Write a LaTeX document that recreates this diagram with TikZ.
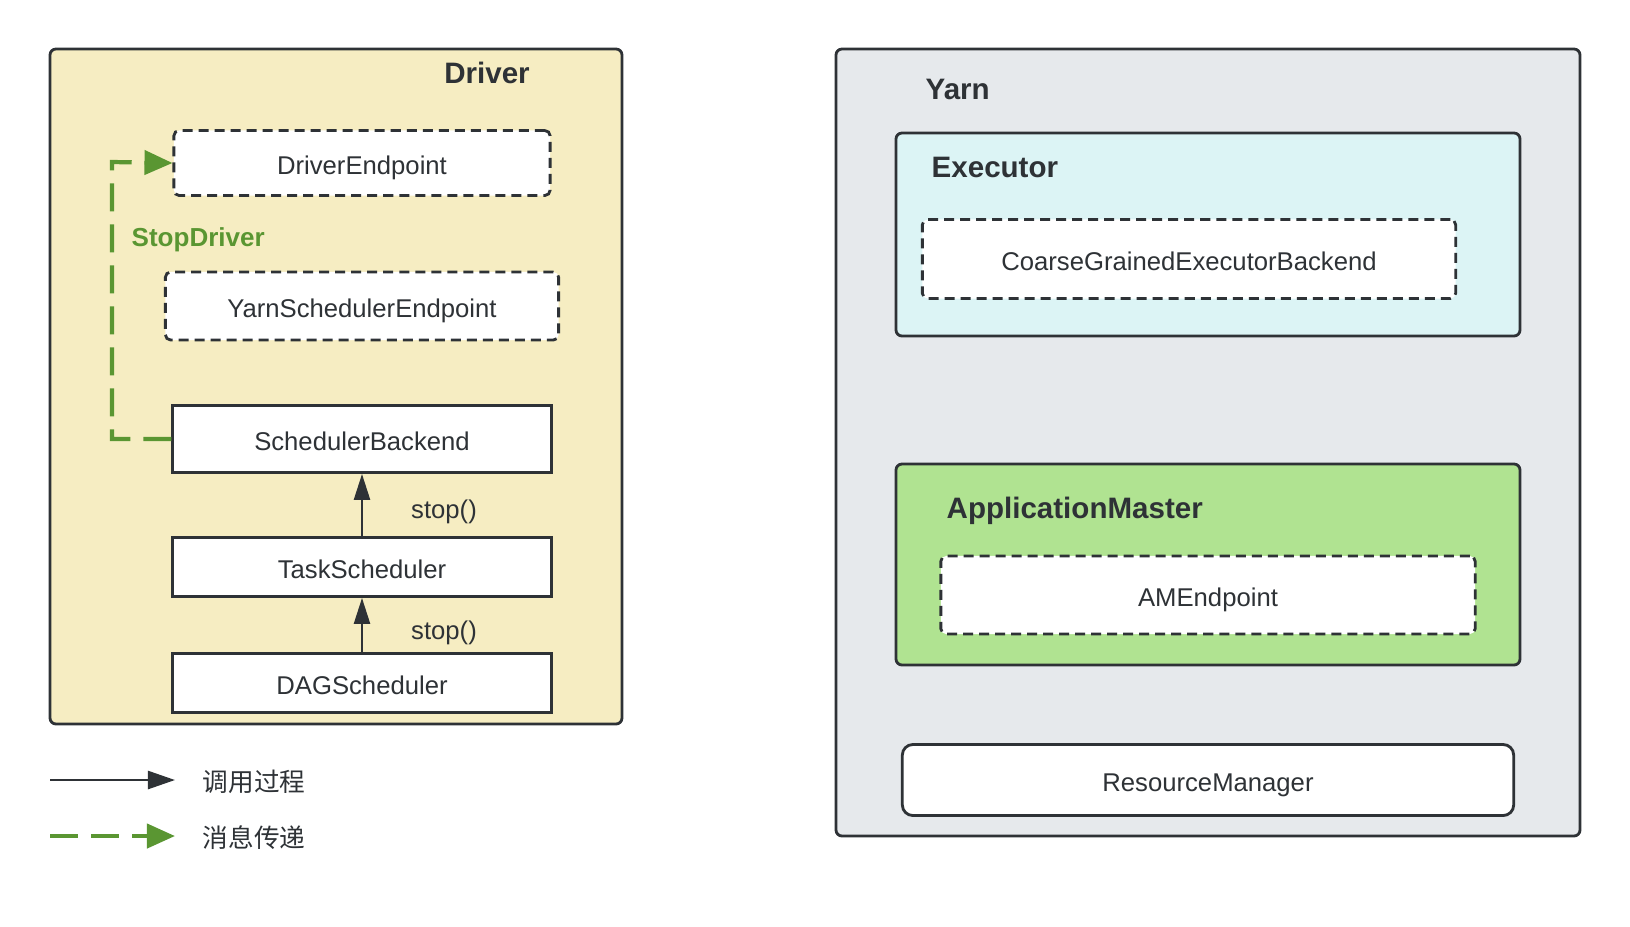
\documentclass[tikz,border=0pt]{standalone}
\usepackage{fontspec}
\setmainfont{Liberation Sans}
\newfontfamily\cjk{Noto Sans CJK SC}
\usetikzlibrary{arrows.meta}

\definecolor{drivfill}{HTML}{F6EDC2}
\definecolor{yarnfill}{HTML}{E6E9EC}
\definecolor{execfill}{HTML}{DCF4F5}
\definecolor{amfill}{HTML}{B0E391}
\definecolor{msggreen}{HTML}{5A9632}
\definecolor{edgegray}{HTML}{2E3236}

\tikzset{
	comp/.style={draw=edgegray, line width=0.8pt, fill=white, text=edgegray, inner sep=0pt,
		text height=6.6pt, text depth=0pt, font=\fontsize{7.3}{9}\selectfont},
	endpt/.style={comp, rounded corners=1.5pt, dash pattern=on 0.1cm off 0.06cm},
	group/.style={draw=edgegray, line width=0.8pt, rounded corners=1.7pt},
	title/.style={font=\fontsize{8.4}{10}\selectfont\bfseries, text=edgegray, inner sep=0pt},
	lbl/.style={font=\fontsize{7.3}{9}\selectfont, text=edgegray, inner sep=0pt},
	callarrow/.style={-{Triangle[length=0.26cm,width=0.16cm]}, line width=0.7pt, draw=edgegray},
	msgarrow/.style={-{Triangle[length=0.28cm,width=0.24cm]}, line width=1.2pt, draw=msggreen,
		dash pattern=on 0.28cm off 0.13cm}
}

\begin{document}
\begin{tikzpicture}[x=0.01cm,y=-0.01cm]

	\useasboundingbox (0,0) rectangle (1630,926);

	%driver and yarn frames
	\draw [group, fill=drivfill] (50,49) rectangle (622,724);
	\draw [group, fill=yarnfill] (836,49) rectangle (1580,836);
	\draw [group, fill=execfill] (896,133) rectangle (1520,336);
	\draw [group, fill=amfill] (896,464) rectangle (1520,665);

	%frame titles
	\node[title] (drvT) at (487,73) {Driver};
	\node[title, anchor=west] (yarnT) at (925,89) {Yarn};
	\node[title, anchor=west] (execT) at (931,167) {Executor};
	\node[title, anchor=west] (amT) at (946,511) {ApplicationMaster};

	%driver side
	\node[endpt, minimum width=3.76cm, minimum height=0.65cm] (drvEP) at (362,163) {DriverEndpoint};
	\node[endpt, minimum width=3.93cm, minimum height=0.68cm] (yarnEP) at (362,306) {YarnSchedulerEndpoint};
	\node[comp, minimum width=3.78cm, minimum height=0.67cm] (schedBE) at (362,439) {SchedulerBackend};
	\node[comp, minimum width=3.78cm, minimum height=0.59cm] (taskSch) at (362,567) {TaskScheduler};
	\node[comp, minimum width=3.78cm, minimum height=0.59cm] (dagSch) at (362,683) {DAGScheduler};

	%yarn side
	\node[endpt, minimum width=5.33cm, minimum height=0.79cm] (coarseEP) at (1189,259) {CoarseGrainedExecutorBackend};
	\node[endpt, minimum width=5.34cm, minimum height=0.78cm] (amEP) at (1208,595) {AMEndpoint};
	\node[comp, rounded corners=3pt, minimum width=6.11cm, minimum height=0.71cm] (resMgr) at (1208,780) {ResourceManager};

	%stop() calls
	\draw[callarrow] (dagSch) -- (taskSch);
	\draw[callarrow] (taskSch) -- (schedBE);
	\node[lbl] (stopA) at (444,512) {stop()};
	\node[lbl] (stopB) at (444,633) {stop()};

	%StopDriver message
	\coordinate (bend) at (112,162);
	\draw[msgarrow] (schedBE.west) -| (bend) -- (drvEP.west);
	\node[title, font=\fontsize{7.4}{9}\selectfont\bfseries, text=msggreen, anchor=west] (stopDrv) at (131,240) {StopDriver};

	%legend
	\coordinate (legA) at (50,780);
	\coordinate (legB) at (175,780);
	\coordinate (legC) at (50,836);
	\coordinate (legD) at (175,836);
	\draw[callarrow, {Triangle[length=0.27cm,width=0.18cm]}-] (legB) -- (legA);
	\draw[msgarrow] (legC) -- (legD);
	\node[lbl, anchor=west] (legT1) at (202,782) {\cjk 调用过程};
	\node[lbl, anchor=west] (legT2) at (202,838) {\cjk 消息传递};

\end{tikzpicture}
\end{document}
